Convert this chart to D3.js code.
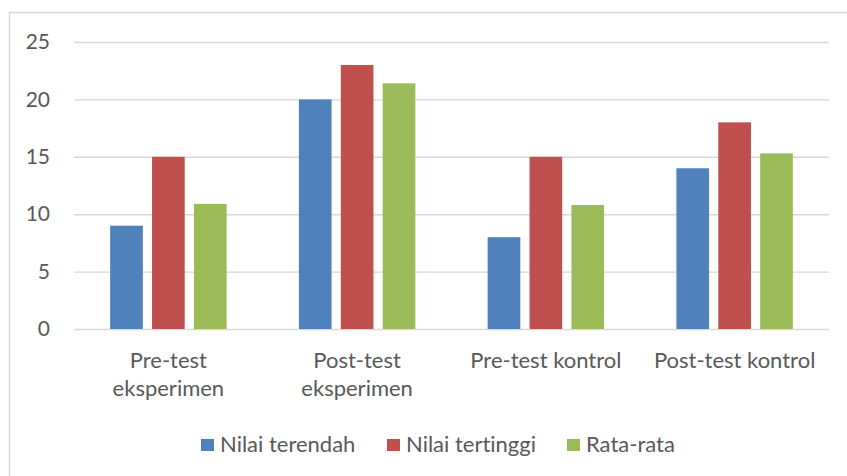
<!DOCTYPE html>
<html>
<head>
<meta charset="utf-8">
<script src="https://cdn.jsdelivr.net/npm/d3@7"></script>
<style>
  html, body { margin: 0; padding: 0; background: #fff; }
  svg { display: block; }
  text { font-family: Lato, "Open Sans", sans-serif; fill: #595959; font-variant-ligatures: none; font-feature-settings: "liga" 0, "clig" 0; }
</style>
</head>
<body>
<svg id="chart" width="847" height="476"></svg>
<script>
const categories = ["Pre-test eksperimen", "Post-test eksperimen", "Pre-test kontrol", "Post-test kontrol"];
const seriesNames = ["Nilai terendah", "Nilai tertinggi", "Rata-rata"];
const nilaiTerendah = [9, 20, 8, 14];
const nilaiTertinggi = [15, 23, 15, 18];
const rataRata = [10.9, 21.4, 10.8, 15.3];
const yTicks = [0, 5, 10, 15, 20, 25];
const colors = ["#4F81BD", "#C0504D", "#9BBB59"];

const seriesValues = [nilaiTerendah, nilaiTertinggi, rataRata];
const rows = categories.map((c, i) => ({ cat: c, vals: seriesValues.map(s => s[i]) }));

const svg = d3.select("#chart");
const W = 847, H = 476;
const margin = { left: 74, right: 18, top: 42, bottom: 147 };
const plotW = W - margin.left - margin.right;
const plotH = H - margin.top - margin.bottom;
const FONT = "Lato, 'Open Sans', sans-serif";

// outer chart border
svg.append("rect")
  .attr("x", 9.5).attr("y", 12.5)
  .attr("width", 850).attr("height", 480)
  .attr("fill", "none").attr("stroke", "#d9d9d9").attr("stroke-width", 1.5);

const g = svg.append("g").attr("transform", `translate(${margin.left},${margin.top})`);

const x0 = d3.scaleBand().domain(categories).range([0, plotW])
  .paddingInner(0.383).paddingOuter(0.1915);
const x1 = d3.scaleBand().domain(seriesNames).range([0, x0.bandwidth()])
  .paddingInner(0.22).paddingOuter(0);
const y = d3.scaleLinear().domain([0, 25]).range([plotH, 0]);

// gridlines + y labels
const yAxis = d3.axisLeft(y).tickValues(yTicks).tickSize(-plotW).tickPadding(24).tickFormat(d3.format("d"));
const ya = g.append("g").call(yAxis);
ya.select(".domain").remove();
ya.selectAll(".tick line").attr("stroke", "#d9d9d9").attr("stroke-width", 1.4);
ya.selectAll(".tick text").attr("font-size", 21).attr("fill", "#595959").style("font-family", FONT);

// bars
const groups = g.selectAll(".grp").data(rows).join("g")
  .attr("transform", d => `translate(${x0(d.cat)},0)`);
groups.selectAll("rect").data(d => d.vals.map((v, i) => ({ name: seriesNames[i], v, i })))
  .join("rect")
  .attr("x", d => x1(d.name))
  .attr("y", d => y(d.v))
  .attr("width", x1.bandwidth())
  .attr("height", d => plotH - y(d.v))
  .attr("fill", d => colors[d.i]);

// x axis labels
const xAxis = d3.axisBottom(x0).tickSize(0).tickPadding(0);
const xa = g.append("g").attr("transform", `translate(0,${plotH})`).call(xAxis);
xa.select(".domain").remove();
xa.selectAll(".tick text").each(function(d) {
  const t = d3.select(this);
  t.text(null).attr("font-size", 22).attr("fill", "#595959")
    .style("font-family", FONT).attr("y", 0).attr("dy", null);
  const words = d.split(" ");
  const maxW = x0.step() - 8;
  let lines = [], cur = [];
  const tmp = t.append("tspan");
  words.forEach(w => {
    const test = cur.concat([w]).join(" ");
    tmp.text(test);
    if (tmp.node().getComputedTextLength() > maxW && cur.length) {
      lines.push(cur.join(" ")); cur = [w];
    } else cur.push(w);
  });
  lines.push(cur.join(" "));
  tmp.remove();
  lines.forEach((ln, i) => {
    t.append("tspan").attr("x", 0).attr("y", 39 + i * 28).text(ln);
  });
});

// legend
const legendItems = [
  { name: seriesNames[0], x: 201 },
  { name: seriesNames[1], x: 387 },
  { name: seriesNames[2], x: 567 }
];
const lg = svg.append("g");
legendItems.forEach((it, i) => {
  lg.append("rect").attr("x", it.x).attr("y", 439).attr("width", 13).attr("height", 12).attr("fill", colors[i]);
  lg.append("text").attr("x", it.x + 19).attr("y", 452).attr("font-size", 22).text(it.name);
});
</script>
</body>
</html>
